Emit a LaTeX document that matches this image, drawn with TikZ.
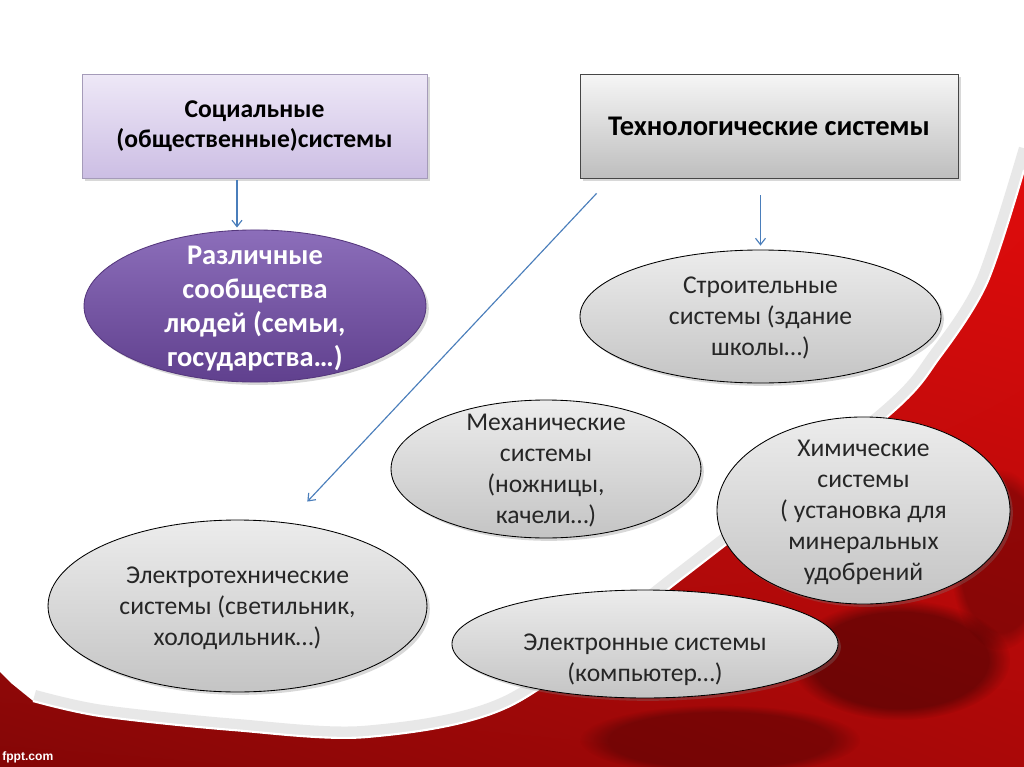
\documentclass[tikz,border=0pt]{standalone}
\usepackage{fontspec}
\setmainfont{Carlito}
\newfontfamily\brandfont{Liberation Sans}
\usetikzlibrary{shapes.geometric,shadows,shadings,fadings,arrows.meta}
\definecolor{arrowblue}{RGB}{74,126,187}
\definecolor{socTop}{RGB}{238,232,247}
\definecolor{socBot}{RGB}{204,190,228}
\definecolor{socLine}{RGB}{165,155,185}
\definecolor{techTop}{RGB}{246,246,246}
\definecolor{techBot}{RGB}{190,190,190}
\definecolor{techLine}{RGB}{70,70,70}
\definecolor{purpTop}{RGB}{140,110,186}
\definecolor{purpBot}{RGB}{96,64,142}
\definecolor{purpLine}{RGB}{85,55,125}
\definecolor{ellTop}{RGB}{236,236,236}
\definecolor{ellBot}{RGB}{196,196,196}
\definecolor{redUL}{RGB}{205,20,20}
\definecolor{redUR}{RGB}{225,12,12}
\definecolor{redLL}{RGB}{132,6,6}
\definecolor{redLR}{RGB}{170,8,8}

\begin{document}
\begin{tikzpicture}[x=0.703pt,y=-0.703pt,
    sysbox/.style={rectangle,draw,line width=0.6pt,minimum height=73.1pt,inner sep=0pt,align=center,
        font=\fontsize{18}{21}\selectfont\bfseries,
        drop shadow={shadow xshift=2pt,shadow yshift=-2pt,opacity=0.3}},
    sysell/.style={ellipse,draw=black,line width=0.6pt,inner sep=-40pt,align=center,text depth=0pt,
        top color=ellTop,bottom color=ellBot,text=black!85,
        font=\fontsize{18}{21.8}\selectfont,
        drop shadow={shadow xshift=2pt,shadow yshift=-2pt,opacity=0.3}},
    link/.style={draw=arrowblue,line width=0.8pt,-{Straight Barb[length=4.5pt,width=7pt]}}]

    % background with red swoosh
    \useasboundingbox (0,0) rectangle (1024,767);
    \fill[white] (0,0) rectangle (1024,767);
    \draw[gray!70,opacity=0.25,line width=16pt] plot[smooth] coordinates {(1030,150) (987,283) (940,357) (887,417) (680,580) (512,705) (367,737) (233,730) (100,716) (33,701)};
    \shade[upper left=redUL,upper right=redUR,lower left=redLL,lower right=redLR]
        (1024,160) -- plot[smooth] coordinates {(1024,170) (987,283) (940,357) (887,417) (680,580) (512,705) (367,737) (233,730) (100,716) (33,701)}
        -- (12,684) -- (0,672) -- (0,767) -- (1024,767) -- cycle;
    \fill[black,opacity=0.35,path fading=circle with fuzzy edge 20 percent] (900,660) ellipse (110 and 60);
    \fill[black,opacity=0.25,path fading=circle with fuzzy edge 20 percent] (720,740) ellipse (140 and 35);
    \fill[black,opacity=0.25,path fading=circle with fuzzy edge 20 percent] (1000,560) ellipse (50 and 90);
    \draw[white,line width=1.5pt] plot[smooth] coordinates {(1024,170) (987,283) (940,357) (887,417) (680,580) (512,705) (367,737) (233,730) (100,716) (33,701)};
    \node at (2,757) [anchor=west,inner sep=0pt,text=white,font=\brandfont\bfseries\fontsize{8.5}{10}\selectfont] (brand) {fppt.com};

    % top boxes
    \node at (254.5,126) [sysbox,minimum width=242.5pt,draw=socLine,top color=socTop,bottom color=socBot] (social) {Социальные\\(общественные)системы};
    \node at (769,126) [sysbox,minimum width=265.7pt,draw=techLine,top color=techTop,bottom color=techBot,font=\fontsize{20}{24}\selectfont\bfseries] (tech) {Технологические системы};

    % systems
    \node at (255,306) [ellipse,draw=purpLine,line width=0.6pt,inner sep=-40pt,align=center,text depth=0pt,minimum width=240.4pt,minimum height=106.9pt,
        top color=purpTop,bottom color=purpBot,text=white,font=\fontsize{20}{24}\selectfont\bfseries,
        drop shadow={shadow xshift=2pt,shadow yshift=-2pt,opacity=0.3}] (various) {Различные\\сообщества\\людей (семьи,\\государства…)};
    \node at (760.5,316.5) [sysell,minimum width=253.8pt,minimum height=93.5pt] (build) {Строительные\\системы (здание\\школы…)};
    \node at (546,469) [sysell,minimum width=217.9pt,minimum height=97pt] (mech) {Механические\\системы\\(ножницы,\\качели…)};
    \node at (863.5,510.5) [sysell,minimum width=206pt,minimum height=131.5pt] (chem) {Химические\\системы\\( установка для\\минеральных\\удобрений};
    \node at (237.5,606) [sysell,minimum width=266.4pt,minimum height=120.9pt] (elec) {Электротехнические\\системы (светильник,\\холодильник…)};
    \node at (645,644) [sysell,minimum width=271.4pt,minimum height=75.9pt,text height=53pt] (electr) {Электронные системы\\(компьютер…)};

    % arrows
    \draw[link,shorten <=1.4pt,shorten >=1.4pt] ([xshift=-12.3pt]social.south) -- ([xshift=-12.3pt]social.south |- various.north);
    \draw[link,shorten <=12pt,shorten >=2.8pt] (build.north |- tech.south) -- (build.north);
    \draw[link,shorten <=14.4pt,shorten >=20.3pt] ([xshift=21.8pt]tech.south west) -- (elec.59);
\end{tikzpicture}
\end{document}
